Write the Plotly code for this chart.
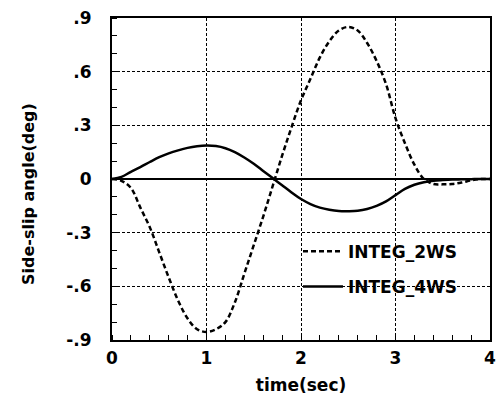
import plotly.graph_objects as go

time_s = [0.0, 0.1, 0.2, 0.3, 0.4, 0.5, 0.6, 0.7, 0.8, 0.9,
          1.0, 1.1, 1.2, 1.3, 1.4, 1.5, 1.6, 1.7, 1.8, 1.9,
          2.0, 2.1, 2.2, 2.3, 2.4, 2.5, 2.6, 2.7, 2.8, 2.9,
          3.0, 3.1, 3.2, 3.3, 3.4, 3.5, 3.6, 3.7, 3.8, 3.9, 4.0]

integ_2ws = [0.0, -0.01, -0.05, -0.16, -0.27, -0.41, -0.55, -0.68, -0.78, -0.84,
             -0.855, -0.84, -0.80, -0.69, -0.53, -0.37, -0.21, -0.04, 0.13, 0.29,
             0.44, 0.56, 0.68, 0.77, 0.83, 0.85, 0.83, 0.76, 0.66, 0.53,
             0.34, 0.20, 0.08, 0.0, -0.028, -0.03, -0.028, -0.02, -0.008, 0.0, 0.0]

integ_4ws = [0.0, 0.012, 0.04, 0.066, 0.095, 0.122, 0.143, 0.16, 0.174, 0.183,
             0.187, 0.184, 0.172, 0.15, 0.12, 0.085, 0.045, 0.005, -0.035, -0.075,
             -0.112, -0.14, -0.16, -0.172, -0.179, -0.18, -0.178, -0.168, -0.15, -0.125,
             -0.09, -0.055, -0.032, -0.018, -0.01, -0.006, -0.003, -0.002, -0.001, 0.0, 0.0]

x_ticks = [0, 1, 2, 3, 4]
x_labels = ["0", "1", "2", "3", "4"]
y_ticks = [-0.9, -0.6, -0.3, 0, 0.3, 0.6, 0.9]
y_labels = ["-.9", "-.6", "-.3", "0", ".3", ".6", ".9"]

FONT = "DejaVu Sans"

fig = go.Figure()
fig.add_trace(go.Scatter(x=time_s, y=integ_2ws, mode="lines", name="INTEG_2WS",
                         legendgroup="a",
                         line=dict(color="black", width=2.5, dash="5px,3px", shape="spline")))
fig.add_trace(go.Scatter(x=time_s, y=integ_4ws, mode="lines", name="INTEG_4WS",
                         legendgroup="b",
                         line=dict(color="black", width=2.5, shape="spline")))

axis_common = dict(
    showline=True, linecolor="black", linewidth=2, mirror=True,
    showgrid=True, gridcolor="black", gridwidth=1, griddash="3px,2px",
    ticks="", tickfont=dict(family=FONT, size=17, color="black", weight="bold"),
)

fig.update_xaxes(range=[0, 4], tickvals=x_ticks, ticktext=x_labels,
                 zeroline=False, ticklabelstandoff=2,
                 minor=dict(dtick=0.2, ticks="inside", ticklen=5, tickcolor="black",
                            tickwidth=1, showgrid=False),
                 title=dict(text="time(sec)", standoff=12,
                            font=dict(family=FONT, size=17, color="black", weight="bold")),
                 **axis_common)
fig.update_yaxes(range=[-0.9, 0.9], tickvals=y_ticks, ticktext=y_labels,
                 zeroline=True, zerolinecolor="black", zerolinewidth=1.5,
                 ticklabelstandoff=15,
                 minor=dict(dtick=0.1, ticks="inside", ticklen=5, tickcolor="black",
                            tickwidth=1, showgrid=False),
                 **axis_common)

fig.add_annotation(text="Side-slip angle(deg)", textangle=-90,
                   xref="paper", yref="paper",
                   x=(27 - 112) / 384, y=(343 - 193) / 330,
                   xanchor="center", yanchor="middle", showarrow=False,
                   font=dict(family=FONT, size=16, color="black", weight="bold"))

fig.update_layout(
    width=504, height=400,
    margin=dict(l=112, r=8, t=13, b=57),
    paper_bgcolor="white", plot_bgcolor="white",
    showlegend=True,
    legend=dict(x=0.492, y=0.33, xanchor="left", yanchor="top",
                bgcolor="rgba(0,0,0,0)", borderwidth=0,
                traceorder="grouped", tracegroupgap=10, itemwidth=40,
                font=dict(family=FONT, size=17, color="black", weight="bold")),
)

fig.write_html("out.html")
